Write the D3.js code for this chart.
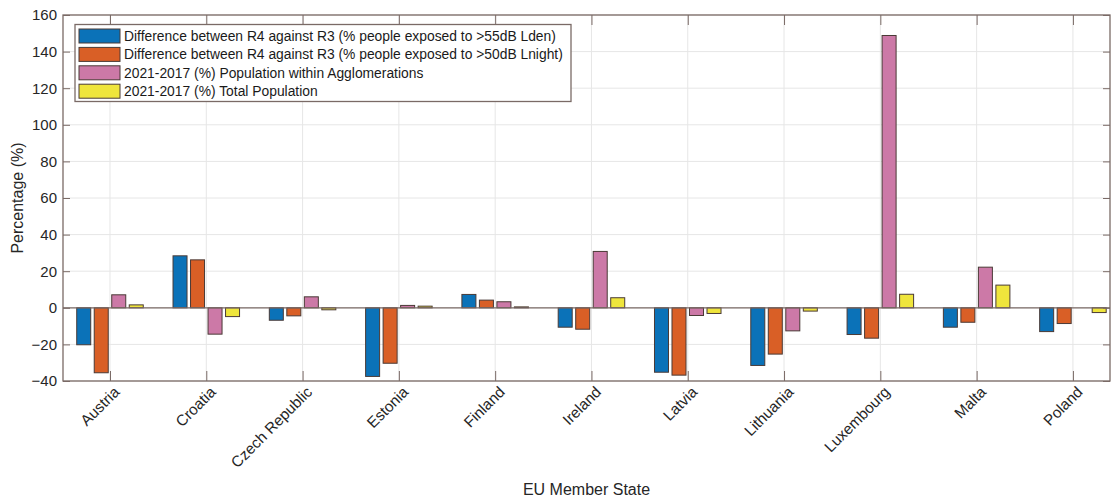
<!DOCTYPE html>
<html>
<head>
<meta charset="utf-8">
<script src="https://cdn.jsdelivr.net/npm/d3@7"></script>
<style>
  html, body { margin: 0; padding: 0; background: #fff; }
  svg { display: block; font-family: "Liberation Sans", Arial, sans-serif; }
</style>
</head>
<body>
<svg id="chart" width="1111" height="497"></svg>
<script>
// Member states on the x axis
const countries = ["Austria", "Croatia", "Czech Republic", "Estonia", "Finland", "Ireland",
                   "Latvia", "Lithuania", "Luxembourg", "Malta", "Poland"];

// Series values (%)
const lden    = [-20.2, 28.4, -6.8, -37.5, 7.3, -10.6, -35.2, -31.5, -14.6, -10.6, -13.0];
const lnight  = [-35.5, 26.2, -4.4, -30.3, 4.2, -11.7, -36.8, -25.3, -16.6, -7.9, -8.6];
const agglom  = [7.1, -14.4, 6.0, 1.3, 3.3, 30.8, -4.2, -12.6, 148.8, 22.2, 0];
const totalPop = [1.6, -4.8, -1.1, 0.9, 0.5, 5.5, -3.1, -1.8, 7.4, 12.4, -2.6];

const seriesNames = [
  "Difference between R4 against R3 (% people exposed to >55dB Lden)",
  "Difference between R4 against R3 (% people exposed to >50dB Lnight)",
  "2021-2017 (%) Population within Agglomerations",
  "2021-2017 (%) Total Population"
];
const seriesColors = ["#0b72b8", "#d95f26", "#cc79a7", "#efe53c"];
const yTicks = [-40, -20, 0, 20, 40, 60, 80, 100, 120, 140, 160];

const series = [lden, lnight, agglom, totalPop];

const svg = d3.select("#chart");
const plotL = 63, plotR = 1110, plotT = 15, plotB = 381;
const axisColor = "#7a6a66";

// Category positions: index 0..10, axis box spans a little past the first and last slot
const x = d3.scaleLinear().domain([-0.488, 10.385]).range([plotL, plotR]);
const y = d3.scaleLinear().domain([-40, 160]).range([plotB, plotT]);

const slot = x(1) - x(0);
const groupW = slot * (4 / 5.5);
const sub = groupW / 4;
const barW = sub * 0.8;

// Grid
const grid = svg.append("g");
yTicks.forEach(t => {
  grid.append("line").attr("x1", plotL).attr("x2", plotR)
    .attr("y1", y(t)).attr("y2", y(t))
    .attr("stroke", "#e6e6e6").attr("stroke-width", 1);
});
countries.forEach((c, i) => {
  grid.append("line").attr("y1", plotT).attr("y2", plotB)
    .attr("x1", x(i)).attr("x2", x(i))
    .attr("stroke", "#e6e6e6").attr("stroke-width", 1);
});

// Bars
const bars = svg.append("g");
series.forEach((vals, s) => {
  bars.selectAll(null).data(vals).enter().append("rect")
    .attr("x", (d, i) => x(i) - groupW / 2 + sub * s + (sub - barW) / 2)
    .attr("width", barW)
    .attr("y", d => y(Math.max(0, d)))
    .attr("height", d => Math.abs(y(d) - y(0)))
    .attr("fill", seriesColors[s])
    .attr("stroke", "#4a3a36")
    .attr("stroke-width", 1)
    .attr("display", d => d === 0 ? "none" : null);
});

// Baseline
svg.append("line").attr("x1", plotL).attr("x2", plotR)
  .attr("y1", y(0)).attr("y2", y(0))
  .attr("stroke", "#7a6a66").attr("stroke-width", 1.2);

// Axis box
svg.append("rect").attr("x", plotL).attr("y", plotT)
  .attr("width", plotR - plotL).attr("height", plotB - plotT)
  .attr("fill", "none").attr("stroke", axisColor).attr("stroke-width", 1.3);

// Left axis ticks & labels
const yAxis = d3.axisLeft(y).tickValues(yTicks).tickSize(-7).tickPadding(6);
const gy = svg.append("g").attr("transform", `translate(${plotL},0)`).call(yAxis);
gy.select(".domain").remove();
gy.selectAll(".tick line").attr("stroke", axisColor);
gy.selectAll(".tick text").attr("font-size", 15).attr("fill", "#262626")
  .attr("font-family", "Liberation Sans, Arial, sans-serif");

// Right-side ticks
const gyr = svg.append("g").attr("transform", `translate(${plotR},0)`)
  .call(d3.axisRight(y).tickValues(yTicks).tickSize(-7).tickFormat(""));
gyr.select(".domain").remove();
gyr.selectAll(".tick line").attr("stroke", axisColor);

// Bottom axis ticks & rotated labels
const xAxis = d3.axisBottom(x).tickValues(d3.range(countries.length))
  .tickSize(-10).tickFormat(i => countries[i]);
const gx = svg.append("g").attr("transform", `translate(0,${plotB})`).call(xAxis);
gx.select(".domain").remove();
gx.selectAll(".tick line").attr("stroke", axisColor);
gx.selectAll(".tick text")
  .attr("font-size", 15.3).attr("fill", "#262626")
  .attr("font-family", "Liberation Sans, Arial, sans-serif")
  .attr("text-anchor", "end")
  .attr("dy", null).attr("y", 0)
  .attr("transform", "translate(10,12) rotate(-45)");

// Top ticks
const gxt = svg.append("g").attr("transform", `translate(0,${plotT})`)
  .call(d3.axisTop(x).tickValues(d3.range(countries.length)).tickSize(-10).tickFormat(""));
gxt.select(".domain").remove();
gxt.selectAll(".tick line").attr("stroke", axisColor);

// Axis titles
svg.append("text").attr("transform", `translate(23,${(plotT + plotB) / 2}) rotate(-90)`)
  .attr("text-anchor", "middle").attr("font-size", 16).attr("fill", "#262626")
  .text("Percentage (%)");
svg.append("text").attr("x", (plotL + plotR) / 2).attr("y", 495)
  .attr("text-anchor", "middle").attr("font-size", 16).attr("fill", "#262626")
  .text("EU Member State");

// Legend
const lg = svg.append("g");
const lx = 75, ly = 24.5, lw = 496, lh = 77;
lg.append("rect").attr("x", lx).attr("y", ly).attr("width", lw).attr("height", lh)
  .attr("fill", "#fff").attr("stroke", axisColor).attr("stroke-width", 1.3);
seriesNames.forEach((name, i) => {
  const cy = ly + 11.5 + i * 18.4;
  lg.append("rect").attr("x", 79).attr("y", cy - 7).attr("width", 41).attr("height", 14)
    .attr("fill", seriesColors[i]).attr("stroke", "#4a3a36").attr("stroke-width", 1);
  lg.append("text").attr("x", 124).attr("y", cy + 5)
    .attr("font-size", 13.85).attr("fill", "#1a1a1a").text(name);
});
</script>
</body>
</html>
